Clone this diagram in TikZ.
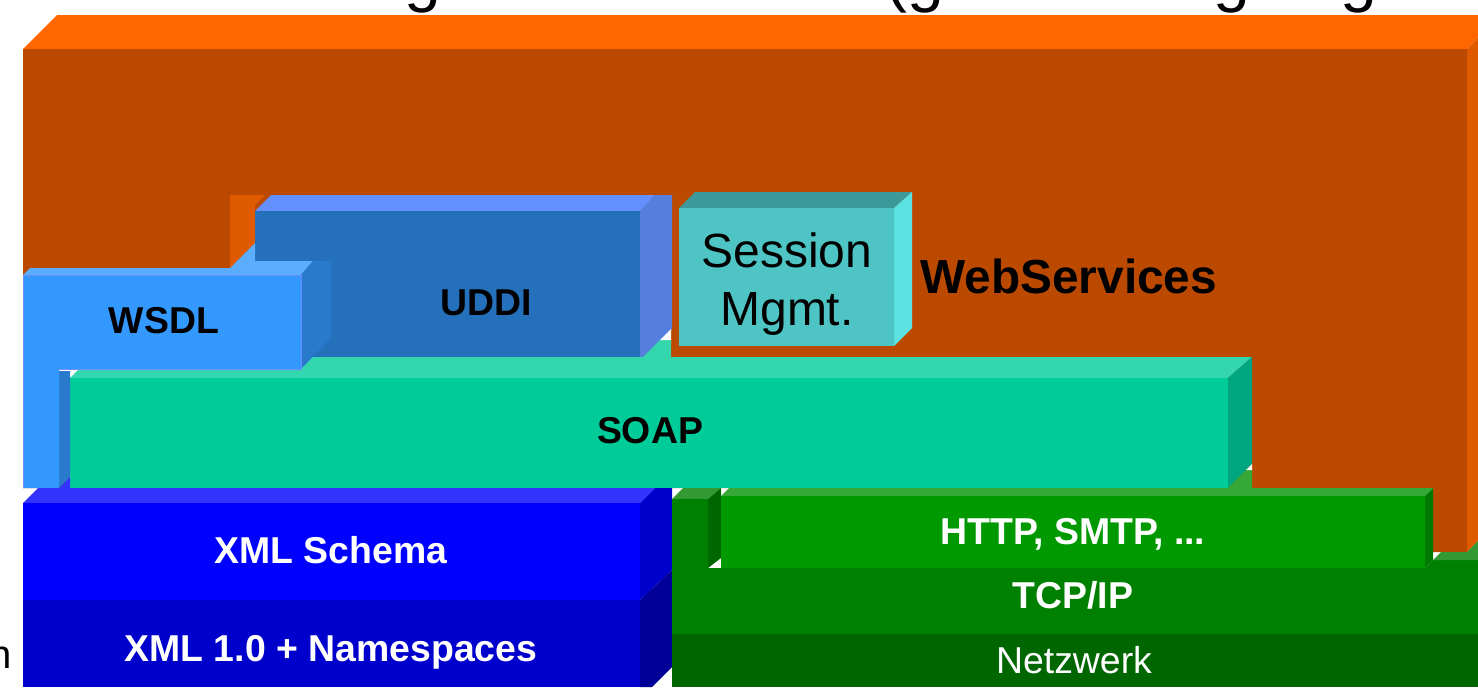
\documentclass[tikz,border=0pt]{standalone}
\usepackage{fontspec}
\setmainfont{Liberation Sans}

% WebServices frame
\definecolor{orTop}{HTML}{FF6600}
\definecolor{orFront}{HTML}{BB4A00}
\definecolor{orSide}{HTML}{E05A00}
% UDDI
\definecolor{udTop}{HTML}{6490FF}
\definecolor{udFront}{HTML}{2470BA}
\definecolor{udSide}{HTML}{557FDF}
% WSDL
\definecolor{wsTop}{HTML}{5CADFF}
\definecolor{wsFront}{HTML}{3399FF}
\definecolor{wsSide}{HTML}{297ACC}
\definecolor{wsEdge}{HTML}{6E8CFF}
% SOAP
\definecolor{soTop}{HTML}{33D6AD}
\definecolor{soFront}{HTML}{00CC99}
\definecolor{soSide}{HTML}{00A67F}
% Session management
\definecolor{seTop}{HTML}{3D9999}
\definecolor{seFront}{HTML}{4FC4C4}
\definecolor{seSide}{HTML}{5CE1E1}
% XML layers
\definecolor{xsTop}{HTML}{3333FF}
\definecolor{xsFront}{HTML}{0000FF}
\definecolor{xsSide}{HTML}{0000CC}
\definecolor{xnFront}{HTML}{0000CC}
\definecolor{xnSide}{HTML}{000099}
% transport layers
\definecolor{htTop}{HTML}{35A835}
\definecolor{htFront}{HTML}{009900}
\definecolor{htSide}{HTML}{007A00}
\definecolor{tcTop}{HTML}{339933}
\definecolor{tcFront}{HTML}{008000}
\definecolor{tcSide}{HTML}{006600}
\definecolor{nwFront}{HTML}{006600}

\begin{document}
\begin{tikzpicture}[x=0.5pt,y=-0.5pt,
  boldlbl/.style={inner sep=0pt, anchor=base, font=\fontsize{18.7}{22}\selectfont\bfseries},
  plainlbl/.style={inner sep=0pt, anchor=base, font=\fontsize{18.7}{22}\selectfont},
  sesslbl/.style={inner sep=0pt, anchor=base, font=\fontsize{24}{29}\selectfont},
  titleglyph/.style={inner sep=0pt, anchor=base west, font=\fontsize{33}{40}\selectfont}]
\path[use as bounding box] (0,0) rectangle (1478,687);
\clip (0,0) rectangle (1478,687);

% ---- WebServices frame (back) ----
\fill[orTop] (23,49) -- (57,15) -- (1501,15) -- (1467,49) -- cycle;
\fill[orSide] (1467,49) -- (1501,15) -- (1501,518) -- (1467,552) -- cycle;
\fill[orFront] (23,49) -- (1467,49) -- (1467,552) -- (1433,552) -- (1433,488) -- (23,488) -- cycle;
\fill[orSide] (230,195) -- (265,195) -- (255,205) -- (255,243) -- (230,268) -- cycle;

% ---- UDDI ----
\fill[udTop] (255,211) -- (271,195) -- (655,195) -- (640,211) -- cycle;
\fill[udSide] (640,211) -- (655,195) -- (672,195) -- (672,329) -- (640,360) -- cycle;
\fill[udFront] (255,211) rectangle (640,360);

% ---- SOAP ----
\fill[white] (59,369) -- (80,369) -- (70,379) -- (59,379) -- cycle;
\fill[soTop] (70,378) -- (91,357) -- (1252,357) -- (1228,378) -- cycle;
\fill[soTop] (640,360) -- (660,340) -- (671,340) -- (671,360) -- cycle;
\fill[white] (660,340) -- (671,329) -- (671,340) -- cycle;
\fill[soFront] (70,378) rectangle (1228,488);
\fill[soSide] (1228,378) -- (1252,357) -- (1252,464) -- (1228,488) -- cycle;
\fill[htTop] (1228,488) -- (1246,470) -- (1252,470) -- (1252,488) -- cycle;
\fill[white] (1246,470) -- (1252,464) -- (1252,470) -- cycle;

% ---- WSDL ----
\fill[wsTop] (23,275) -- (30,268) -- (230,268) -- (255,243) -- (255,261) -- (313,261) -- (301,275) -- cycle;
\fill[wsSide] (301,275) -- (313,261) -- (331,261) -- (331,338) -- (301,369) -- cycle;
\fill[wsSide] (59,371) -- (70,371) -- (70,477) -- (59,488) -- cycle;
\fill[wsFront] (23,275) -- (301,275) -- (301,369) -- (59,369) -- (59,488) -- (23,488) -- cycle;
\draw[wsEdge, line width=0.5pt] (23,488) -- (23,275) -- (301,275) -- (301,369) -- (59,369);

% ---- Session management ----
\fill[seTop] (679,208) -- (695,192) -- (912,192) -- (894,208) -- cycle;
\fill[seSide] (894,208) -- (912,192) -- (912,328) -- (894,346) -- cycle;
\fill[seFront] (679,208) rectangle (894,346);

% ---- XML Schema / XML 1.0 ----
\fill[xsTop] (23,503) -- (38,488) -- (59,488) -- (70,477) -- (70,488) -- (655,488) -- (640,503) -- cycle;
\fill[xsSide] (640,503) -- (655,488) -- (672,488) -- (672,570) -- (640,600) -- cycle;
\fill[xsFront] (23,503) rectangle (640,600);
\fill[xnSide] (640,600) -- (672,570) -- (672,667) -- (652,687) -- (640,687) -- cycle;
\fill[xnFront] (23,600) rectangle (640,687);

% ---- TCP/IP, HTTP, network ----
\fill[tcTop] (672,499) -- (683,488) -- (721,488) -- (708,499) -- cycle;
\fill[tcSide] (708,499) -- (721,488) -- (721,558) -- (708,568) -- cycle;
\fill[tcFront] (672,499) -- (708,499) -- (708,568) -- (1425,568) -- (1433,560) -- (1478,560) -- (1478,634) -- (672,634) -- cycle;
\fill[tcTop] (1433,560) -- (1441,552) -- (1467,552) -- (1478,541) -- (1478,560) -- cycle;
\fill[htTop] (721,496) -- (729,488) -- (1433,488) -- (1425,496) -- cycle;
\fill[htSide] (1425,496) -- (1433,488) -- (1433,560) -- (1425,568) -- cycle;
\fill[htFront] (721,496) rectangle (1425,568);
\fill[nwFront] (672,634) rectangle (1478,687);

% ---- labels ----
\node[boldlbl] (wsdl) at (164,333) {WSDL};
\node[boldlbl] (uddi) at (486,315) {UDDI};
\node[boldlbl] (soap) at (650,443) {SOAP};
\node[sesslbl] (sess) at (787,267) {Session};
\node[sesslbl] (mgmt) at (787,325) {Mgmt.};
\node[inner sep=0pt, anchor=base west, font=\fontsize{23.9}{28}\selectfont\bfseries] (websvc) at (920,293) {WebServices};
\node[boldlbl, text=white] (xsd) at (331,563) {XML Schema};
\node[boldlbl, text=white] (xmlns) at (331,661) {XML 1.0 + Namespaces};
\node[boldlbl, text=white] (http) at (1073,544) {HTTP, SMTP, ...};
\node[boldlbl, text=white] (tcpip) at (1073,608) {TCP/IP};
\node[plainlbl, text=white] (netz) at (1074,673) {Netzwerk};
\node[inner sep=0pt, anchor=base east, font=\fontsize{20}{24}\selectfont] (leftn) at (12,668) {n};

% ---- heading line above the frame ----
\node[titleglyph] (hg1) at (404,-1) {g};
\node[titleglyph] (hg2) at (885,-1) {(g};
\node[titleglyph] (hg3) at (1213,-1) {g};
\node[titleglyph] (hg4) at (1340,-1) {g};
\end{tikzpicture}
\end{document}
